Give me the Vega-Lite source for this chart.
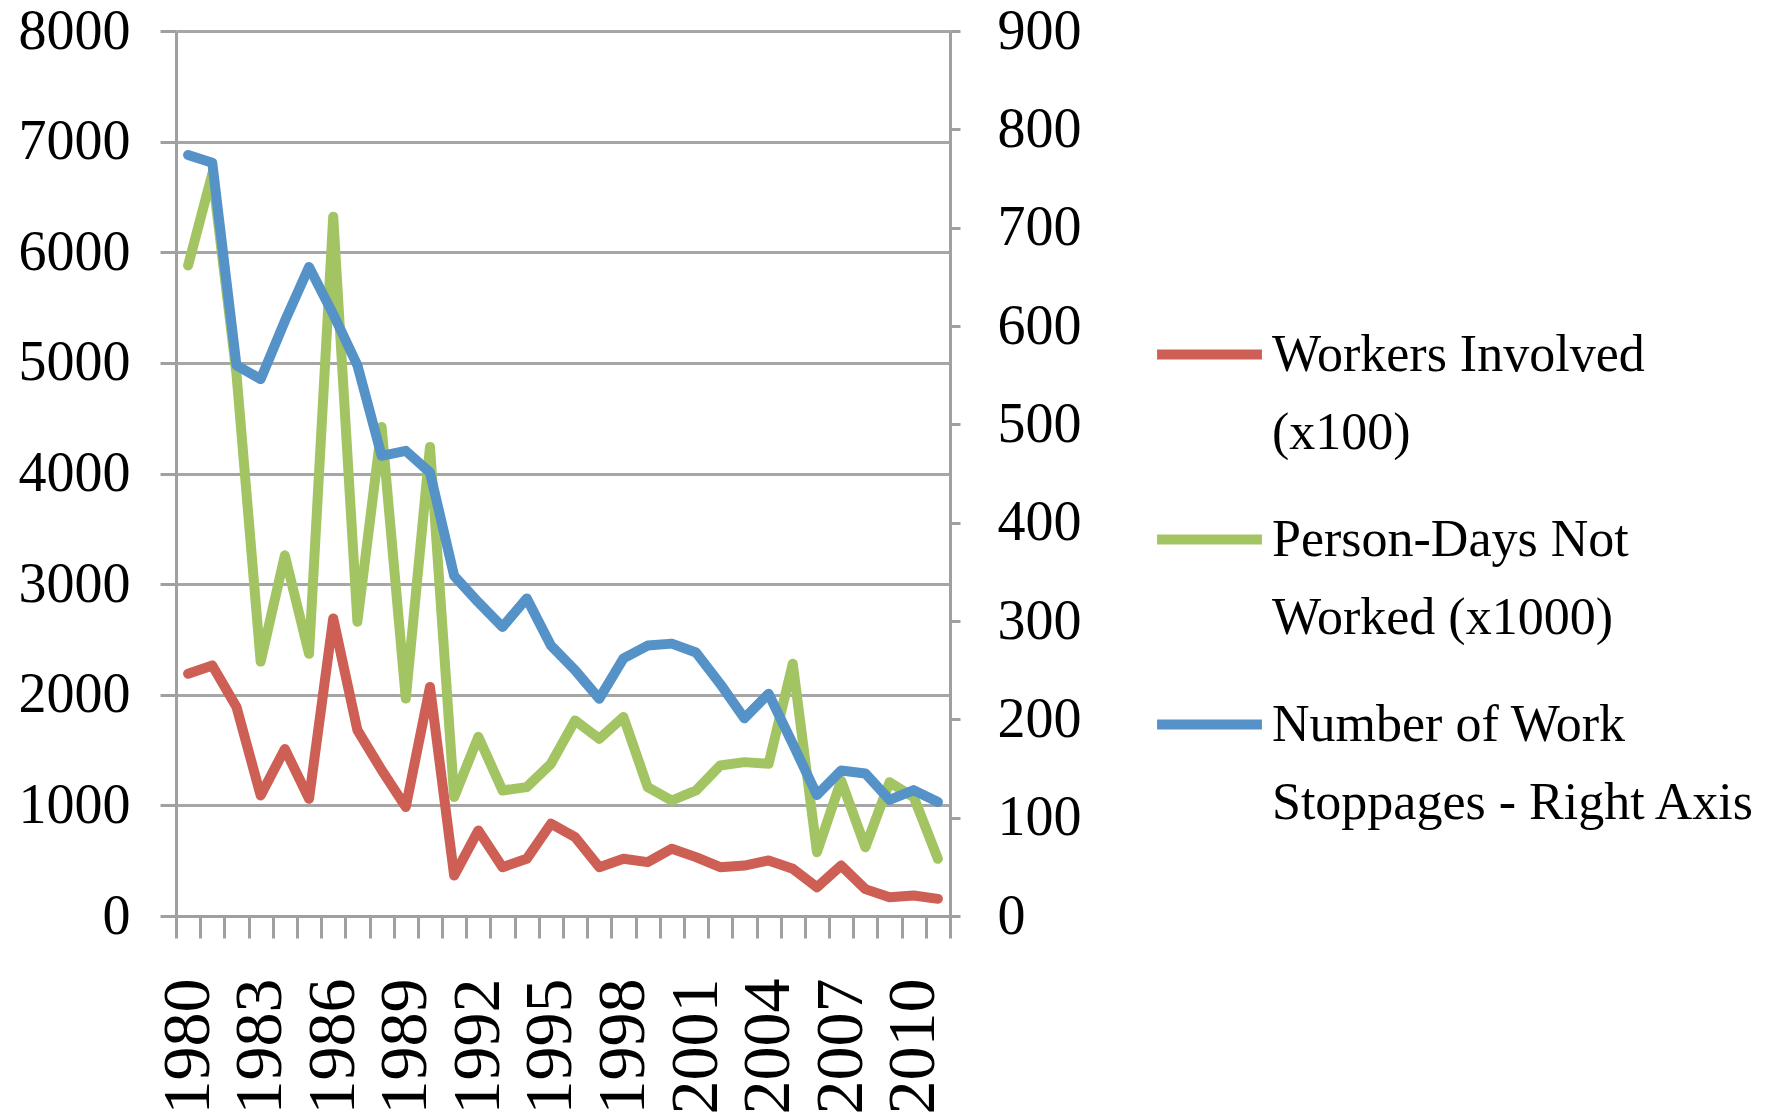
{
  "$schema": "https://vega.github.io/schema/vega-lite/v6.json",
  "width": 774,
  "height": 885,
  "autosize": {"type": "none"},
  "padding": {"left": 176, "top": 31, "right": 821, "bottom": 203},
  "background": "white",
  "config": {
    "view": {"stroke": null},
    "font": "Liberation Serif",
    "style": {"guide-label": {"lineHeight": 78}},
    "axis": {"labelFont": "Liberation Serif", "labelColor": "black", "domainColor": "#A0A0A0", "domainWidth": 3, "tickColor": "#A0A0A0", "tickWidth": 3, "gridColor": "#A6A6A6", "gridWidth": 3, "title": null}
  },
  "data": {"values": [
    {"year": 1980, "workers": 2190, "persondays": 5880, "stoppages": 774},
    {"year": 1981, "workers": 2265, "persondays": 6710, "stoppages": 766},
    {"year": 1982, "workers": 1890, "persondays": 4900, "stoppages": 560},
    {"year": 1983, "workers": 1090, "persondays": 2300, "stoppages": 546},
    {"year": 1984, "workers": 1510, "persondays": 3260, "stoppages": 605},
    {"year": 1985, "workers": 1060, "persondays": 2370, "stoppages": 660},
    {"year": 1986, "workers": 2690, "persondays": 6320, "stoppages": 612},
    {"year": 1987, "workers": 1680, "persondays": 2660, "stoppages": 560},
    {"year": 1988, "workers": 1320, "persondays": 4420, "stoppages": 468},
    {"year": 1989, "workers": 985, "persondays": 1965, "stoppages": 473},
    {"year": 1990, "workers": 2070, "persondays": 4240, "stoppages": 451},
    {"year": 1991, "workers": 366, "persondays": 1075, "stoppages": 346},
    {"year": 1992, "workers": 773, "persondays": 1620, "stoppages": 319},
    {"year": 1993, "workers": 441, "persondays": 1135, "stoppages": 294},
    {"year": 1994, "workers": 517, "persondays": 1165, "stoppages": 323},
    {"year": 1995, "workers": 834, "persondays": 1376, "stoppages": 275},
    {"year": 1996, "workers": 713, "persondays": 1768, "stoppages": 250},
    {"year": 1997, "workers": 441, "persondays": 1602, "stoppages": 221},
    {"year": 1998, "workers": 517, "persondays": 1798, "stoppages": 262},
    {"year": 1999, "workers": 487, "persondays": 1165, "stoppages": 275},
    {"year": 2000, "workers": 608, "persondays": 1044, "stoppages": 277},
    {"year": 2001, "workers": 532, "persondays": 1135, "stoppages": 268},
    {"year": 2002, "workers": 441, "persondays": 1361, "stoppages": 236},
    {"year": 2003, "workers": 456, "persondays": 1391, "stoppages": 201},
    {"year": 2004, "workers": 502, "persondays": 1376, "stoppages": 226},
    {"year": 2005, "workers": 427, "persondays": 2280, "stoppages": 175},
    {"year": 2006, "workers": 260, "persondays": 577, "stoppages": 123},
    {"year": 2007, "workers": 456, "persondays": 1225, "stoppages": 148},
    {"year": 2008, "workers": 243, "persondays": 622, "stoppages": 145},
    {"year": 2009, "workers": 170, "persondays": 1210, "stoppages": 118},
    {"year": 2010, "workers": 185, "persondays": 1074, "stoppages": 128},
    {"year": 2011, "workers": 155, "persondays": 517, "stoppages": 116}
  ]},
  "transform": [{"fold": ["workers", "persondays", "stoppages"], "as": ["series", "value"]}],
  "encoding": {
    "x": {
      "field": "year", "type": "ordinal",
      "scale": {"paddingInner": 0, "paddingOuter": 0},
      "axis": {
        "labelAngle": -90, "labelAlign": "right", "labelBaseline": "middle",
        "labelFontSize": 68, "labelPadding": 40, "tickSize": 22, "tickBand": "extent",
        "domain": true, "grid": false,
        "labelExpr": "(datum.value - 1980) % 3 == 0 ? datum.value : ''"
      }
    },
    "color": {
      "field": "series", "type": "nominal",
      "scale": {"domain": ["workers", "persondays", "stoppages"], "range": ["#CD5F55", "#A3C463", "#5592C8"]},
      "legend": {
        "title": null, "orient": "none", "legendX": 976, "legendY": 266,
        "symbolType": "stroke", "symbolSize": 11000, "symbolStrokeWidth": 10,
        "labelFont": "Liberation Serif", "labelFontSize": 52, "labelColor": "black",
        "labelOffset": 5, "rowPadding": 23, "labelLimit": 800, "padding": 0,
        "labelExpr": "datum.value == 'workers' ? ['Workers Involved', '(x100)'] : datum.value == 'persondays' ? ['Person-Days Not', 'Worked (x1000)'] : ['Number of Work', 'Stoppages - Right Axis']"
      }
    }
  },
  "layer": [
    {
      "transform": [{"filter": "datum.series != 'stoppages'"}],
      "mark": {"type": "line", "strokeWidth": 10, "strokeCap": "round", "strokeJoin": "round"},
      "encoding": {
        "y": {
          "field": "value", "type": "quantitative",
          "scale": {"domain": [0, 8000], "nice": false},
          "axis": {"values": [0, 1000, 2000, 3000, 4000, 5000, 6000, 7000, 8000], "format": "d", "labelFontSize": 56, "tickSize": 16, "labelPadding": 30, "grid": true}
        }
      }
    },
    {
      "transform": [{"filter": "datum.series == 'stoppages'"}],
      "mark": {"type": "line", "strokeWidth": 10, "strokeCap": "round", "strokeJoin": "round"},
      "encoding": {
        "y": {
          "field": "value", "type": "quantitative",
          "scale": {"domain": [0, 900], "nice": false},
          "axis": {"orient": "right", "values": [0, 100, 200, 300, 400, 500, 600, 700, 800, 900], "format": "d", "labelFontSize": 56, "tickSize": 10, "labelPadding": 37, "grid": false}
        }
      }
    }
  ],
  "resolve": {"scale": {"y": "independent"}}
}
